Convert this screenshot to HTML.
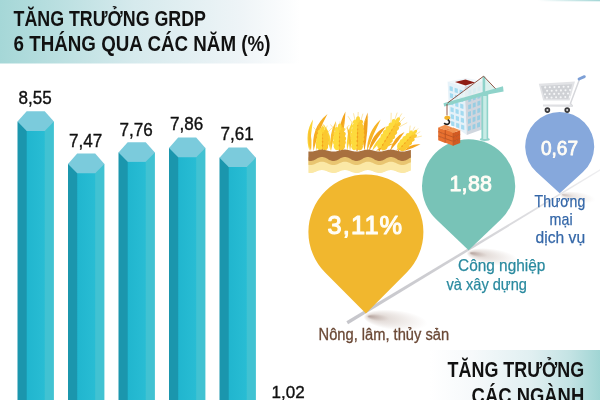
<!DOCTYPE html>
<html lang="vi">
<head>
<meta charset="utf-8">
<title>Tăng trưởng GRDP 6 tháng qua các năm</title>
<style>
html,body{margin:0;padding:0;background:#fff;}
body{width:600px;height:400px;overflow:hidden;font-family:"Liberation Sans",sans-serif;}
svg{display:block;}
text{font-family:"Liberation Sans",sans-serif;}
.t{font-weight:bold;fill:#111;}
.v{fill:#111;stroke:#111;stroke-width:0.35px;}
.w{fill:#fffdf6;stroke:#fffdf6;stroke-width:0.8px;stroke-linejoin:round;}
</style>
</head>
<body>
<svg width="600" height="400" viewBox="0 0 600 400">
<defs>
<linearGradient id="ghead" x1="0" y1="0" x2="1" y2="0">
<stop offset="0" stop-color="#a5d7d7"/>
<stop offset="0.45" stop-color="#d6eaed"/>
<stop offset="0.8" stop-color="#eef4f7"/>
<stop offset="1" stop-color="#ffffff"/>
</linearGradient>
<linearGradient id="gfoot" x1="0" y1="0" x2="1" y2="0">
<stop offset="0" stop-color="#ffffff"/>
<stop offset="0.25" stop-color="#f6f9fb"/>
<stop offset="0.6" stop-color="#e0eff1"/>
<stop offset="0.82" stop-color="#c4e3e4"/>
<stop offset="1" stop-color="#a0d5d4"/>
</linearGradient>
<linearGradient id="gmid" x1="0" y1="0" x2="1" y2="0">
<stop offset="0" stop-color="#20b5ce"/>
<stop offset="1" stop-color="#29bdd4"/>
</linearGradient>
<linearGradient id="gtop" x1="0" y1="0" x2="1" y2="0">
<stop offset="0" stop-color="#ffffff"/>
<stop offset="1" stop-color="#a3d6d6"/>
</linearGradient>
<linearGradient id="gline" gradientUnits="userSpaceOnUse" x1="347" y1="0" x2="600" y2="0">
<stop offset="0" stop-color="#c6c6cb"/>
<stop offset="0.45" stop-color="#d0d0d4"/>
<stop offset="0.75" stop-color="#dfdfe2"/>
<stop offset="1" stop-color="#eeeef0"/>
</linearGradient>
<radialGradient id="gsh" cx="0.5" cy="0.5" r="0.5" fx="0.08" fy="0.45">
<stop offset="0" stop-color="#7a5a50" stop-opacity="0.55"/>
<stop offset="0.35" stop-color="#8a6a5a" stop-opacity="0.22"/>
<stop offset="1" stop-color="#8a6a5a" stop-opacity="0"/>
</radialGradient>
</defs>
<rect x="0" y="0" width="600" height="400" fill="#fff"/>
<rect x="0" y="0" width="300" height="63.5" fill="url(#ghead)"/>
<rect x="538" y="0" width="62" height="1.3" fill="url(#gtop)"/>
<rect x="430" y="350" width="170" height="50" fill="url(#gfoot)"/>

<text class="t" x="13.5" y="26.2" font-size="22" textLength="192.5" lengthAdjust="spacingAndGlyphs">TĂNG TRƯỞNG GRDP</text>
<text class="t" x="13.5" y="51.4" font-size="22" textLength="257" lengthAdjust="spacingAndGlyphs">6 THÁNG QUA CÁC NĂM (%)</text>
<rect x="25.7" y="130.3" width="20.0" height="400" fill="url(#gmid)"/>
<rect x="17.5" y="121.6" width="9.2" height="400" fill="#1b96ad"/>
<rect x="44.7" y="121.6" width="9.2" height="400" fill="#41c2d2"/>
<polygon points="17.5,121.6 26.7,111.3 44.7,111.3 53.9,121.6 44.7,130.9 26.7,130.9" fill="#7bcbdc"/>
<text class="v" x="18.6" y="104.0" font-size="17.5" textLength="33.2" lengthAdjust="spacingAndGlyphs">8,55</text>
<rect x="76.2" y="172.6" width="20.0" height="400" fill="url(#gmid)"/>
<rect x="68.0" y="163.9" width="9.2" height="400" fill="#1b96ad"/>
<rect x="95.2" y="163.9" width="9.2" height="400" fill="#41c2d2"/>
<polygon points="68.0,163.9 77.2,153.6 95.2,153.6 104.4,163.9 95.2,173.2 77.2,173.2" fill="#7bcbdc"/>
<text class="v" x="69.1" y="147.4" font-size="17.5" textLength="33.2" lengthAdjust="spacingAndGlyphs">7,47</text>
<rect x="126.7" y="161.2" width="20.0" height="400" fill="url(#gmid)"/>
<rect x="118.5" y="152.5" width="9.2" height="400" fill="#1b96ad"/>
<rect x="145.70000000000002" y="152.5" width="9.2" height="400" fill="#41c2d2"/>
<polygon points="118.5,152.5 127.7,142.2 145.70000000000002,142.2 154.9,152.5 145.70000000000002,161.79999999999998 127.7,161.79999999999998" fill="#7bcbdc"/>
<text class="v" x="119.6" y="136.0" font-size="17.5" textLength="33.2" lengthAdjust="spacingAndGlyphs">7,76</text>
<rect x="177.2" y="156.6" width="20.0" height="400" fill="url(#gmid)"/>
<rect x="169.0" y="147.9" width="9.2" height="400" fill="#1b96ad"/>
<rect x="196.20000000000002" y="147.9" width="9.2" height="400" fill="#41c2d2"/>
<polygon points="169.0,147.9 178.2,137.6 196.20000000000002,137.6 205.4,147.9 196.20000000000002,157.2 178.2,157.2" fill="#7bcbdc"/>
<text class="v" x="170.1" y="130.3" font-size="17.5" textLength="33.2" lengthAdjust="spacingAndGlyphs">7,86</text>
<rect x="227.7" y="166.4" width="20.0" height="400" fill="url(#gmid)"/>
<rect x="219.5" y="157.70000000000002" width="9.2" height="400" fill="#1b96ad"/>
<rect x="246.70000000000002" y="157.70000000000002" width="9.2" height="400" fill="#41c2d2"/>
<polygon points="219.5,157.70000000000002 228.7,147.4 246.70000000000002,147.4 255.9,157.70000000000002 246.70000000000002,167.0 228.7,167.0" fill="#7bcbdc"/>
<text class="v" x="220.6" y="140.1" font-size="17.5" textLength="33.2" lengthAdjust="spacingAndGlyphs">7,61</text>
<text class="v" x="271.6" y="397.6" font-size="17.3" textLength="33.2" lengthAdjust="spacingAndGlyphs">1,02</text>
<ellipse cx="396" cy="317" rx="32" ry="10" fill="url(#gsh)" transform="rotate(6 366 314)"/>
<ellipse cx="493" cy="253.5" rx="26" ry="8" fill="url(#gsh)" transform="rotate(8 469 251)"/>
<ellipse cx="578" cy="195" rx="18" ry="5.5" fill="url(#gsh)" opacity="0.7" transform="rotate(8 561 193)"/>
<polygon points="346.4,321.3 601,168.6 601,170.2 348.1,324.3" fill="url(#gline)"/>
<g id="wheat">
<path d="M309.5,151.0 Q310.9,134.4 313.0,119.5 Q304.1,133.6 309.5,151.0 Z" fill="#fbd437"/>
<path d="M311.0,151.0 Q312.5,139.8 309.5,128.0 Q306.5,140.2 311.0,151.0 Z" fill="#f9c02e"/>
<path d="M313.5,151.0 Q318.4,130.5 327.5,114.0 Q310.6,127.5 313.5,151.0 Z" fill="#f6ad22"/>
<path d="M316.0,151.0 Q320.4,136.9 324.0,124.0 Q314.6,135.1 316.0,151.0 Z" fill="#fcd63a"/>
<path d="M330.5,151.0 Q332.9,135.2 323.5,124.0 Q327.1,136.8 330.5,151.0 Z" fill="#fbd437"/>
<path d="M331.0,151.0 Q334.5,134.5 336.0,121.0 Q328.5,133.5 331.0,151.0 Z" fill="#f9bd2b"/>
<path d="M340.0,151.0 Q344.6,128.6 345.5,111.5 Q336.4,127.4 340.0,151.0 Z" fill="#f4a51e"/>
<path d="M347.0,151.0 Q351.5,135.5 352.5,121.0 Q345.5,134.5 347.0,151.0 Z" fill="#fbd437"/>
<path d="M350.0,151.0 Q353.6,137.7 347.0,126.0 Q348.4,138.3 350.0,151.0 Z" fill="#f9bd2b"/>
<path d="M364.5,151.0 Q368.4,130.4 367.6,112.5 Q359.6,129.6 364.5,151.0 Z" fill="#f0a01c"/>
<path d="M367.0,151.0 Q373.1,134.4 380.7,119.5 Q366.9,131.6 367.0,151.0 Z" fill="#f7b426"/>
<path d="M369.0,151.0 Q377.1,138.2 386.0,126.5 Q370.9,133.8 369.0,151.0 Z" fill="#f2a21d"/>
<path d="M372.0,151.0 Q379.2,143.8 384.0,136.0 Q374.8,140.2 372.0,151.0 Z" fill="#fbd437"/>
<path d="M390.0,151.0 Q398.7,141.1 404.5,132.0 Q393.3,136.9 390.0,151.0 Z" fill="#f4a51e"/>
<path d="M396.0,151.0 Q403.8,145.2 412.0,138.5 Q400.2,140.8 396.0,151.0 Z" fill="#f9bd2b"/>
<path d="M404.0,151.0 Q412.1,148.8 420.5,144.3 Q409.9,143.2 404.0,151.0 Z" fill="#f4a51e"/>
<path d="M376.0,151.0 Q384.0,148.5 394.0,143.5 Q382.0,143.5 376.0,151.0 Z" fill="#f7b426"/>
<line x1="322.3" y1="151" x2="322.6" y2="146" stroke="#f3a01d" stroke-width="1.2"/>
<line x1="339.3" y1="151" x2="339.5" y2="146" stroke="#f3a01d" stroke-width="1.2"/>
<line x1="357" y1="151" x2="357.4" y2="146" stroke="#f3a01d" stroke-width="1.2"/>
<line x1="379" y1="151" x2="381" y2="147" stroke="#f3a01d" stroke-width="1.2"/>
<line x1="398" y1="151.5" x2="400" y2="148" stroke="#f3a01d" stroke-width="1.2"/>
<line x1="322.6" y1="137.5" x2="313.5" y2="127.3" stroke="#f9c840" stroke-width="0.45"/>
<line x1="322.6" y1="137.5" x2="332.2" y2="127.7" stroke="#f9c840" stroke-width="0.45"/>
<line x1="322.6" y1="137.5" x2="318.5" y2="125.4" stroke="#f9c840" stroke-width="0.45"/>
<line x1="322.6" y1="137.5" x2="327.3" y2="125.6" stroke="#f9c840" stroke-width="0.45"/>
<line x1="322.6" y1="137.5" x2="322.9" y2="124.5" stroke="#f9c840" stroke-width="0.45"/>
<ellipse cx="322.6" cy="139.5" rx="4.8" ry="10.0" transform="rotate(1.1 322.6 139.5)" fill="#f3a01d"/>
<ellipse cx="319.6" cy="147.2" rx="2.6" ry="3.0" transform="rotate(-28.9 319.6 147.2)" fill="#fddb3d"/>
<ellipse cx="325.3" cy="147.3" rx="2.6" ry="3.0" transform="rotate(31.1 325.3 147.3)" fill="#fbc830"/>
<ellipse cx="319.3" cy="143.5" rx="3.0" ry="3.0" transform="rotate(-28.9 319.3 143.5)" fill="#fddb3d"/>
<ellipse cx="325.8" cy="143.6" rx="3.0" ry="3.0" transform="rotate(31.1 325.8 143.6)" fill="#fbc830"/>
<ellipse cx="319.3" cy="139.8" rx="3.1" ry="3.0" transform="rotate(-28.9 319.3 139.8)" fill="#fddb3d"/>
<ellipse cx="325.9" cy="139.9" rx="3.1" ry="3.0" transform="rotate(31.1 325.9 139.9)" fill="#fbc830"/>
<ellipse cx="319.7" cy="136.1" rx="2.8" ry="3.0" transform="rotate(-28.9 319.7 136.1)" fill="#fddb3d"/>
<ellipse cx="325.6" cy="136.2" rx="2.8" ry="3.0" transform="rotate(31.1 325.6 136.2)" fill="#fbc830"/>
<ellipse cx="320.3" cy="132.4" rx="2.2" ry="3.0" transform="rotate(-28.9 320.3 132.4)" fill="#fddb3d"/>
<ellipse cx="325.1" cy="132.5" rx="2.2" ry="3.0" transform="rotate(31.1 325.1 132.5)" fill="#fbc830"/>
<ellipse cx="322.8" cy="129.5" rx="1.9" ry="3.0" transform="rotate(1.1 322.8 129.5)" fill="#fdd637"/>
<line x1="339.6" y1="136.0" x2="330.5" y2="124.5" stroke="#f9c840" stroke-width="0.45"/>
<line x1="339.6" y1="136.0" x2="349.2" y2="125.0" stroke="#f9c840" stroke-width="0.45"/>
<line x1="339.6" y1="136.0" x2="335.5" y2="122.4" stroke="#f9c840" stroke-width="0.45"/>
<line x1="339.6" y1="136.0" x2="344.3" y2="122.6" stroke="#f9c840" stroke-width="0.45"/>
<line x1="339.6" y1="136.0" x2="340.0" y2="121.4" stroke="#f9c840" stroke-width="0.45"/>
<ellipse cx="339.5" cy="138.2" rx="4.8" ry="11.3" transform="rotate(1.5 339.5 138.2)" fill="#f3a01d"/>
<ellipse cx="336.5" cy="146.9" rx="2.6" ry="3.4" transform="rotate(-28.5 336.5 146.9)" fill="#fddb3d"/>
<ellipse cx="342.1" cy="147.1" rx="2.6" ry="3.4" transform="rotate(31.5 342.1 147.1)" fill="#fbc830"/>
<ellipse cx="336.1" cy="142.7" rx="3.0" ry="3.4" transform="rotate(-28.5 336.1 142.7)" fill="#fddb3d"/>
<ellipse cx="342.6" cy="142.9" rx="3.0" ry="3.4" transform="rotate(31.5 342.6 142.9)" fill="#fbc830"/>
<ellipse cx="336.2" cy="138.6" rx="3.1" ry="3.4" transform="rotate(-28.5 336.2 138.6)" fill="#fddb3d"/>
<ellipse cx="342.8" cy="138.8" rx="3.1" ry="3.4" transform="rotate(31.5 342.8 138.8)" fill="#fbc830"/>
<ellipse cx="336.6" cy="134.4" rx="2.8" ry="3.4" transform="rotate(-28.5 336.6 134.4)" fill="#fddb3d"/>
<ellipse cx="342.6" cy="134.6" rx="2.8" ry="3.4" transform="rotate(31.5 342.6 134.6)" fill="#fbc830"/>
<ellipse cx="337.3" cy="130.3" rx="2.2" ry="3.4" transform="rotate(-28.5 337.3 130.3)" fill="#fddb3d"/>
<ellipse cx="342.1" cy="130.4" rx="2.2" ry="3.4" transform="rotate(31.5 342.1 130.4)" fill="#fbc830"/>
<ellipse cx="339.8" cy="127.0" rx="1.9" ry="3.4" transform="rotate(1.5 339.8 127.0)" fill="#fdd637"/>
<line x1="357.6" y1="131.5" x2="348.0" y2="116.2" stroke="#f9c840" stroke-width="0.45"/>
<line x1="357.6" y1="131.5" x2="368.2" y2="116.8" stroke="#f9c840" stroke-width="0.45"/>
<line x1="357.6" y1="131.5" x2="353.5" y2="113.3" stroke="#f9c840" stroke-width="0.45"/>
<line x1="357.6" y1="131.5" x2="362.9" y2="113.7" stroke="#f9c840" stroke-width="0.45"/>
<line x1="357.6" y1="131.5" x2="358.2" y2="112.0" stroke="#f9c840" stroke-width="0.45"/>
<ellipse cx="357.5" cy="134.5" rx="5.1" ry="15.0" transform="rotate(1.9 357.5 134.5)" fill="#f3a01d"/>
<ellipse cx="354.1" cy="147.0" rx="2.7" ry="3.2" transform="rotate(-28.1 354.1 147.0)" fill="#fddb3d"/>
<ellipse cx="360.0" cy="147.2" rx="2.7" ry="3.2" transform="rotate(31.9 360.0 147.2)" fill="#fbc830"/>
<ellipse cx="353.9" cy="142.9" rx="3.1" ry="3.2" transform="rotate(-28.1 353.9 142.9)" fill="#fddb3d"/>
<ellipse cx="360.5" cy="143.1" rx="3.1" ry="3.2" transform="rotate(31.9 360.5 143.1)" fill="#fbc830"/>
<ellipse cx="353.8" cy="138.8" rx="3.3" ry="3.2" transform="rotate(-28.1 353.8 138.8)" fill="#fddb3d"/>
<ellipse cx="360.9" cy="139.1" rx="3.3" ry="3.2" transform="rotate(31.9 360.9 139.1)" fill="#fbc830"/>
<ellipse cx="353.9" cy="134.8" rx="3.3" ry="3.2" transform="rotate(-28.1 353.9 134.8)" fill="#fddb3d"/>
<ellipse cx="361.1" cy="135.0" rx="3.3" ry="3.2" transform="rotate(31.9 361.1 135.0)" fill="#fbc830"/>
<ellipse cx="354.3" cy="130.7" rx="3.1" ry="3.2" transform="rotate(-28.1 354.3 130.7)" fill="#fddb3d"/>
<ellipse cx="361.0" cy="131.0" rx="3.1" ry="3.2" transform="rotate(31.9 361.0 131.0)" fill="#fbc830"/>
<ellipse cx="354.8" cy="126.7" rx="2.7" ry="3.2" transform="rotate(-28.1 354.8 126.7)" fill="#fddb3d"/>
<ellipse cx="360.7" cy="126.9" rx="2.7" ry="3.2" transform="rotate(31.9 360.7 126.9)" fill="#fbc830"/>
<ellipse cx="355.5" cy="122.7" rx="2.3" ry="3.2" transform="rotate(-28.1 355.5 122.7)" fill="#fddb3d"/>
<ellipse cx="360.3" cy="122.8" rx="2.3" ry="3.2" transform="rotate(31.9 360.3 122.8)" fill="#fbc830"/>
<ellipse cx="358.0" cy="119.5" rx="2.0" ry="3.2" transform="rotate(1.9 358.0 119.5)" fill="#fdd637"/>
<line x1="390.7" y1="131.7" x2="391.2" y2="112.8" stroke="#f9c840" stroke-width="0.45"/>
<line x1="390.7" y1="131.7" x2="407.2" y2="122.6" stroke="#f9c840" stroke-width="0.45"/>
<line x1="390.7" y1="131.7" x2="397.2" y2="112.6" stroke="#f9c840" stroke-width="0.45"/>
<line x1="390.7" y1="131.7" x2="404.6" y2="117.2" stroke="#f9c840" stroke-width="0.45"/>
<line x1="390.7" y1="131.7" x2="401.8" y2="113.5" stroke="#f9c840" stroke-width="0.45"/>
<ellipse cx="389.0" cy="134.5" rx="4.8" ry="16.4" transform="rotate(31.3 389.0 134.5)" fill="#f3a01d"/>
<ellipse cx="379.6" cy="144.8" rx="2.5" ry="3.5" transform="rotate(1.3 379.6 144.8)" fill="#fddb3d"/>
<ellipse cx="384.2" cy="147.6" rx="2.5" ry="3.5" transform="rotate(61.3 384.2 147.6)" fill="#fbc830"/>
<ellipse cx="381.5" cy="140.8" rx="2.9" ry="3.5" transform="rotate(1.3 381.5 140.8)" fill="#fddb3d"/>
<ellipse cx="386.8" cy="144.0" rx="2.9" ry="3.5" transform="rotate(61.3 386.8 144.0)" fill="#fbc830"/>
<ellipse cx="383.6" cy="136.9" rx="3.1" ry="3.5" transform="rotate(1.3 383.6 136.9)" fill="#fddb3d"/>
<ellipse cx="389.3" cy="140.4" rx="3.1" ry="3.5" transform="rotate(61.3 389.3 140.4)" fill="#fbc830"/>
<ellipse cx="385.9" cy="133.2" rx="3.1" ry="3.5" transform="rotate(1.3 385.9 133.2)" fill="#fddb3d"/>
<ellipse cx="391.6" cy="136.6" rx="3.1" ry="3.5" transform="rotate(61.3 391.6 136.6)" fill="#fbc830"/>
<ellipse cx="388.4" cy="129.5" rx="2.9" ry="3.5" transform="rotate(1.3 388.4 129.5)" fill="#fddb3d"/>
<ellipse cx="393.7" cy="132.7" rx="2.9" ry="3.5" transform="rotate(61.3 393.7 132.7)" fill="#fbc830"/>
<ellipse cx="391.0" cy="125.9" rx="2.5" ry="3.5" transform="rotate(1.3 391.0 125.9)" fill="#fddb3d"/>
<ellipse cx="395.7" cy="128.7" rx="2.5" ry="3.5" transform="rotate(61.3 395.7 128.7)" fill="#fbc830"/>
<ellipse cx="393.7" cy="122.4" rx="2.1" ry="3.5" transform="rotate(1.3 393.7 122.4)" fill="#fddb3d"/>
<ellipse cx="397.6" cy="124.7" rx="2.1" ry="3.5" transform="rotate(61.3 397.6 124.7)" fill="#fbc830"/>
<ellipse cx="397.5" cy="120.5" rx="1.9" ry="3.5" transform="rotate(31.3 397.5 120.5)" fill="#fdd637"/>
<line x1="408.5" y1="139.1" x2="410.2" y2="125.6" stroke="#f9c840" stroke-width="0.45"/>
<line x1="408.5" y1="139.1" x2="421.8" y2="136.1" stroke="#f9c840" stroke-width="0.45"/>
<line x1="408.5" y1="139.1" x2="414.8" y2="126.7" stroke="#f9c840" stroke-width="0.45"/>
<line x1="408.5" y1="139.1" x2="420.2" y2="131.7" stroke="#f9c840" stroke-width="0.45"/>
<line x1="408.5" y1="139.1" x2="418.2" y2="128.4" stroke="#f9c840" stroke-width="0.45"/>
<ellipse cx="407.0" cy="140.8" rx="4.0" ry="11.1" transform="rotate(42.3 407.0 140.8)" fill="#f3a01d"/>
<ellipse cx="399.4" cy="145.6" rx="2.2" ry="3.3" transform="rotate(12.3 399.4 145.6)" fill="#fddb3d"/>
<ellipse cx="402.9" cy="148.8" rx="2.2" ry="3.3" transform="rotate(72.3 402.9 148.8)" fill="#fbc830"/>
<ellipse cx="401.9" cy="142.3" rx="2.5" ry="3.3" transform="rotate(12.3 401.9 142.3)" fill="#fddb3d"/>
<ellipse cx="406.0" cy="145.9" rx="2.5" ry="3.3" transform="rotate(72.3 406.0 145.9)" fill="#fbc830"/>
<ellipse cx="404.7" cy="139.2" rx="2.6" ry="3.3" transform="rotate(12.3 404.7 139.2)" fill="#fddb3d"/>
<ellipse cx="408.8" cy="142.9" rx="2.6" ry="3.3" transform="rotate(72.3 408.8 142.9)" fill="#fbc830"/>
<ellipse cx="407.6" cy="136.3" rx="2.3" ry="3.3" transform="rotate(12.3 407.6 136.3)" fill="#fddb3d"/>
<ellipse cx="411.4" cy="139.7" rx="2.3" ry="3.3" transform="rotate(72.3 411.4 139.7)" fill="#fbc830"/>
<ellipse cx="410.8" cy="133.6" rx="1.9" ry="3.3" transform="rotate(12.3 410.8 133.6)" fill="#fddb3d"/>
<ellipse cx="413.8" cy="136.3" rx="1.9" ry="3.3" transform="rotate(72.3 413.8 136.3)" fill="#fbc830"/>
<ellipse cx="414.5" cy="132.5" rx="1.6" ry="3.3" transform="rotate(42.3 414.5 132.5)" fill="#fdd637"/>
<polygon points="308.4,161.27 308.9,161.37 309.4,161.44 309.9,161.48 310.4,161.50 310.9,161.49 311.4,161.45 311.9,161.38 312.4,161.29 312.9,161.17 313.4,161.04 313.9,160.88 314.4,160.71 314.9,160.52 315.4,160.32 315.9,160.12 316.4,159.92 316.9,159.71 317.4,159.51 317.9,159.33 318.4,159.15 318.9,158.99 319.4,158.85 319.9,158.73 320.4,158.63 320.9,158.56 321.4,158.52 321.9,158.50 322.4,158.51 322.9,158.55 323.4,158.62 323.9,158.71 324.4,158.83 324.9,158.96 325.4,159.12 325.9,159.29 326.4,159.48 326.9,159.68 327.4,159.88 327.9,160.08 328.4,160.29 328.9,160.49 329.4,160.67 329.9,160.85 330.4,161.01 330.9,161.15 331.4,161.27 331.9,161.37 332.4,161.44 332.9,161.48 333.4,161.50 333.9,161.49 334.4,161.45 334.9,161.38 335.4,161.29 335.9,161.17 336.4,161.04 336.9,160.88 337.4,160.71 337.9,160.52 338.4,160.32 338.9,160.12 339.4,159.92 339.9,159.71 340.4,159.51 340.9,159.33 341.4,159.15 341.9,158.99 342.4,158.85 342.9,158.73 343.4,158.63 343.9,158.56 344.4,158.52 344.9,158.50 345.4,158.51 345.9,158.55 346.4,158.62 346.9,158.71 347.4,158.83 347.9,158.96 348.4,159.12 348.9,159.29 349.4,159.48 349.9,159.68 350.4,159.88 350.9,160.08 351.4,160.29 351.9,160.49 352.4,160.67 352.9,160.85 353.4,161.01 353.9,161.15 354.4,161.27 354.9,161.37 355.4,161.44 355.9,161.48 356.4,161.50 356.9,161.49 357.4,161.45 357.9,161.38 358.4,161.29 358.9,161.17 359.4,161.04 359.9,160.88 360.4,160.71 360.9,160.52 361.4,160.32 361.9,160.12 362.4,159.92 362.9,159.71 363.4,159.51 363.9,159.33 364.4,159.15 364.9,158.99 365.4,158.85 365.9,158.73 366.4,158.63 366.9,158.56 367.4,158.52 367.9,158.50 368.4,158.51 368.9,158.55 369.4,158.62 369.9,158.71 370.4,158.83 370.9,158.96 371.4,159.12 371.9,159.29 372.4,159.48 372.9,159.68 373.4,159.88 373.9,160.08 374.4,160.29 374.9,160.49 375.4,160.67 375.9,160.85 376.4,161.01 376.9,161.15 377.4,161.27 377.9,161.37 378.4,161.44 378.9,161.48 379.4,161.50 379.9,161.49 380.4,161.45 380.9,161.38 381.4,161.29 381.9,161.17 382.4,161.04 382.9,160.88 383.4,160.71 383.9,160.52 384.4,160.32 384.9,160.12 385.4,159.92 385.9,159.71 386.4,159.51 386.9,159.33 387.4,159.15 387.9,158.99 388.4,158.85 388.9,158.73 389.4,158.63 389.9,158.56 390.4,158.52 390.9,158.50 391.4,158.51 391.9,158.55 392.4,158.62 392.9,158.71 393.4,158.83 393.9,158.96 394.4,159.12 394.9,159.29 395.4,159.48 395.9,159.68 396.4,159.88 396.9,160.08 397.4,160.29 397.9,160.49 398.4,160.67 398.9,160.85 399.4,161.01 399.9,161.15 400.4,161.27 400.9,161.37 401.4,161.44 401.9,161.48 402.4,161.50 402.9,161.49 403.4,161.45 403.9,161.38 404.4,161.29 404.9,161.17 405.4,161.04 405.9,160.88 406.4,160.71 406.9,160.52 407.4,160.32 407.9,160.12 408.4,159.92 408.9,159.71 409.4,159.51 409.9,159.33 410.4,159.15 410.9,158.99 410.9,170.59 410.4,170.75 409.9,170.93 409.4,171.11 408.9,171.31 408.4,171.52 407.9,171.72 407.4,171.92 406.9,172.12 406.4,172.31 405.9,172.48 405.4,172.64 404.9,172.77 404.4,172.89 403.9,172.98 403.4,173.05 402.9,173.09 402.4,173.10 401.9,173.08 401.4,173.04 400.9,172.97 400.4,172.87 399.9,172.75 399.4,172.61 398.9,172.45 398.4,172.27 397.9,172.09 397.4,171.89 396.9,171.68 396.4,171.48 395.9,171.28 395.4,171.08 394.9,170.89 394.4,170.72 393.9,170.56 393.4,170.43 392.9,170.31 392.4,170.22 391.9,170.15 391.4,170.11 390.9,170.10 390.4,170.12 389.9,170.16 389.4,170.23 388.9,170.33 388.4,170.45 387.9,170.59 387.4,170.75 386.9,170.93 386.4,171.11 385.9,171.31 385.4,171.52 384.9,171.72 384.4,171.92 383.9,172.12 383.4,172.31 382.9,172.48 382.4,172.64 381.9,172.77 381.4,172.89 380.9,172.98 380.4,173.05 379.9,173.09 379.4,173.10 378.9,173.08 378.4,173.04 377.9,172.97 377.4,172.87 376.9,172.75 376.4,172.61 375.9,172.45 375.4,172.27 374.9,172.09 374.4,171.89 373.9,171.68 373.4,171.48 372.9,171.28 372.4,171.08 371.9,170.89 371.4,170.72 370.9,170.56 370.4,170.43 369.9,170.31 369.4,170.22 368.9,170.15 368.4,170.11 367.9,170.10 367.4,170.12 366.9,170.16 366.4,170.23 365.9,170.33 365.4,170.45 364.9,170.59 364.4,170.75 363.9,170.93 363.4,171.11 362.9,171.31 362.4,171.52 361.9,171.72 361.4,171.92 360.9,172.12 360.4,172.31 359.9,172.48 359.4,172.64 358.9,172.77 358.4,172.89 357.9,172.98 357.4,173.05 356.9,173.09 356.4,173.10 355.9,173.08 355.4,173.04 354.9,172.97 354.4,172.87 353.9,172.75 353.4,172.61 352.9,172.45 352.4,172.27 351.9,172.09 351.4,171.89 350.9,171.68 350.4,171.48 349.9,171.28 349.4,171.08 348.9,170.89 348.4,170.72 347.9,170.56 347.4,170.43 346.9,170.31 346.4,170.22 345.9,170.15 345.4,170.11 344.9,170.10 344.4,170.12 343.9,170.16 343.4,170.23 342.9,170.33 342.4,170.45 341.9,170.59 341.4,170.75 340.9,170.93 340.4,171.11 339.9,171.31 339.4,171.52 338.9,171.72 338.4,171.92 337.9,172.12 337.4,172.31 336.9,172.48 336.4,172.64 335.9,172.77 335.4,172.89 334.9,172.98 334.4,173.05 333.9,173.09 333.4,173.10 332.9,173.08 332.4,173.04 331.9,172.97 331.4,172.87 330.9,172.75 330.4,172.61 329.9,172.45 329.4,172.27 328.9,172.09 328.4,171.89 327.9,171.68 327.4,171.48 326.9,171.28 326.4,171.08 325.9,170.89 325.4,170.72 324.9,170.56 324.4,170.43 323.9,170.31 323.4,170.22 322.9,170.15 322.4,170.11 321.9,170.10 321.4,170.12 320.9,170.16 320.4,170.23 319.9,170.33 319.4,170.45 318.9,170.59 318.4,170.75 317.9,170.93 317.4,171.11 316.9,171.31 316.4,171.52 315.9,171.72 315.4,171.92 314.9,172.12 314.4,172.31 313.9,172.48 313.4,172.64 312.9,172.77 312.4,172.89 311.9,172.98 311.4,173.05 310.9,173.09 310.4,173.10 309.9,173.08 309.4,173.04 308.9,172.97 308.4,172.87" fill="#fbe8a6"/>
<polygon points="308.4,157.27 308.9,157.37 309.4,157.44 309.9,157.48 310.4,157.50 310.9,157.49 311.4,157.45 311.9,157.38 312.4,157.29 312.9,157.17 313.4,157.04 313.9,156.88 314.4,156.71 314.9,156.52 315.4,156.32 315.9,156.12 316.4,155.92 316.9,155.71 317.4,155.51 317.9,155.33 318.4,155.15 318.9,154.99 319.4,154.85 319.9,154.73 320.4,154.63 320.9,154.56 321.4,154.52 321.9,154.50 322.4,154.51 322.9,154.55 323.4,154.62 323.9,154.71 324.4,154.83 324.9,154.96 325.4,155.12 325.9,155.29 326.4,155.48 326.9,155.68 327.4,155.88 327.9,156.08 328.4,156.29 328.9,156.49 329.4,156.67 329.9,156.85 330.4,157.01 330.9,157.15 331.4,157.27 331.9,157.37 332.4,157.44 332.9,157.48 333.4,157.50 333.9,157.49 334.4,157.45 334.9,157.38 335.4,157.29 335.9,157.17 336.4,157.04 336.9,156.88 337.4,156.71 337.9,156.52 338.4,156.32 338.9,156.12 339.4,155.92 339.9,155.71 340.4,155.51 340.9,155.33 341.4,155.15 341.9,154.99 342.4,154.85 342.9,154.73 343.4,154.63 343.9,154.56 344.4,154.52 344.9,154.50 345.4,154.51 345.9,154.55 346.4,154.62 346.9,154.71 347.4,154.83 347.9,154.96 348.4,155.12 348.9,155.29 349.4,155.48 349.9,155.68 350.4,155.88 350.9,156.08 351.4,156.29 351.9,156.49 352.4,156.67 352.9,156.85 353.4,157.01 353.9,157.15 354.4,157.27 354.9,157.37 355.4,157.44 355.9,157.48 356.4,157.50 356.9,157.49 357.4,157.45 357.9,157.38 358.4,157.29 358.9,157.17 359.4,157.04 359.9,156.88 360.4,156.71 360.9,156.52 361.4,156.32 361.9,156.12 362.4,155.92 362.9,155.71 363.4,155.51 363.9,155.33 364.4,155.15 364.9,154.99 365.4,154.85 365.9,154.73 366.4,154.63 366.9,154.56 367.4,154.52 367.9,154.50 368.4,154.51 368.9,154.55 369.4,154.62 369.9,154.71 370.4,154.83 370.9,154.96 371.4,155.12 371.9,155.29 372.4,155.48 372.9,155.68 373.4,155.88 373.9,156.08 374.4,156.29 374.9,156.49 375.4,156.67 375.9,156.85 376.4,157.01 376.9,157.15 377.4,157.27 377.9,157.37 378.4,157.44 378.9,157.48 379.4,157.50 379.9,157.49 380.4,157.45 380.9,157.38 381.4,157.29 381.9,157.17 382.4,157.04 382.9,156.88 383.4,156.71 383.9,156.52 384.4,156.32 384.9,156.12 385.4,155.92 385.9,155.71 386.4,155.51 386.9,155.33 387.4,155.15 387.9,154.99 388.4,154.85 388.9,154.73 389.4,154.63 389.9,154.56 390.4,154.52 390.9,154.50 391.4,154.51 391.9,154.55 392.4,154.62 392.9,154.71 393.4,154.83 393.9,154.96 394.4,155.12 394.9,155.29 395.4,155.48 395.9,155.68 396.4,155.88 396.9,156.08 397.4,156.29 397.9,156.49 398.4,156.67 398.9,156.85 399.4,157.01 399.9,157.15 400.4,157.27 400.9,157.37 401.4,157.44 401.9,157.48 402.4,157.50 402.9,157.49 403.4,157.45 403.9,157.38 404.4,157.29 404.9,157.17 405.4,157.04 405.9,156.88 406.4,156.71 406.9,156.52 407.4,156.32 407.9,156.12 408.4,155.92 408.9,155.71 409.4,155.51 409.9,155.33 410.4,155.15 410.9,154.99 410.9,162.25 410.4,162.44 409.9,162.64 409.4,162.85 408.9,163.07 408.4,163.30 407.9,163.54 407.4,163.77 406.9,163.99 406.4,164.20 405.9,164.40 405.4,164.58 404.9,164.73 404.4,164.86 403.9,164.97 403.4,165.04 402.9,165.09 402.4,165.10 401.9,165.08 401.4,165.03 400.9,164.95 400.4,164.84 399.9,164.71 399.4,164.55 398.9,164.36 398.4,164.16 397.9,163.95 397.4,163.73 396.9,163.50 396.4,163.26 395.9,163.03 395.4,162.81 394.9,162.60 394.4,162.40 393.9,162.22 393.4,162.07 392.9,161.94 392.4,161.83 391.9,161.76 391.4,161.71 390.9,161.70 390.4,161.72 389.9,161.77 389.4,161.85 388.9,161.96 388.4,162.09 387.9,162.25 387.4,162.44 386.9,162.64 386.4,162.85 385.9,163.07 385.4,163.30 384.9,163.54 384.4,163.77 383.9,163.99 383.4,164.20 382.9,164.40 382.4,164.58 381.9,164.73 381.4,164.86 380.9,164.97 380.4,165.04 379.9,165.09 379.4,165.10 378.9,165.08 378.4,165.03 377.9,164.95 377.4,164.84 376.9,164.71 376.4,164.55 375.9,164.36 375.4,164.16 374.9,163.95 374.4,163.73 373.9,163.50 373.4,163.26 372.9,163.03 372.4,162.81 371.9,162.60 371.4,162.40 370.9,162.22 370.4,162.07 369.9,161.94 369.4,161.83 368.9,161.76 368.4,161.71 367.9,161.70 367.4,161.72 366.9,161.77 366.4,161.85 365.9,161.96 365.4,162.09 364.9,162.25 364.4,162.44 363.9,162.64 363.4,162.85 362.9,163.07 362.4,163.30 361.9,163.54 361.4,163.77 360.9,163.99 360.4,164.20 359.9,164.40 359.4,164.58 358.9,164.73 358.4,164.86 357.9,164.97 357.4,165.04 356.9,165.09 356.4,165.10 355.9,165.08 355.4,165.03 354.9,164.95 354.4,164.84 353.9,164.71 353.4,164.55 352.9,164.36 352.4,164.16 351.9,163.95 351.4,163.73 350.9,163.50 350.4,163.26 349.9,163.03 349.4,162.81 348.9,162.60 348.4,162.40 347.9,162.22 347.4,162.07 346.9,161.94 346.4,161.83 345.9,161.76 345.4,161.71 344.9,161.70 344.4,161.72 343.9,161.77 343.4,161.85 342.9,161.96 342.4,162.09 341.9,162.25 341.4,162.44 340.9,162.64 340.4,162.85 339.9,163.07 339.4,163.30 338.9,163.54 338.4,163.77 337.9,163.99 337.4,164.20 336.9,164.40 336.4,164.58 335.9,164.73 335.4,164.86 334.9,164.97 334.4,165.04 333.9,165.09 333.4,165.10 332.9,165.08 332.4,165.03 331.9,164.95 331.4,164.84 330.9,164.71 330.4,164.55 329.9,164.36 329.4,164.16 328.9,163.95 328.4,163.73 327.9,163.50 327.4,163.26 326.9,163.03 326.4,162.81 325.9,162.60 325.4,162.40 324.9,162.22 324.4,162.07 323.9,161.94 323.4,161.83 322.9,161.76 322.4,161.71 321.9,161.70 321.4,161.72 320.9,161.77 320.4,161.85 319.9,161.96 319.4,162.09 318.9,162.25 318.4,162.44 317.9,162.64 317.4,162.85 316.9,163.07 316.4,163.30 315.9,163.54 315.4,163.77 314.9,163.99 314.4,164.20 313.9,164.40 313.4,164.58 312.9,164.73 312.4,164.86 311.9,164.97 311.4,165.04 310.9,165.09 310.4,165.10 309.9,165.08 309.4,165.03 308.9,164.95 308.4,164.84" fill="#e9c570"/>
<polygon points="308.4,151.45 308.9,151.51 309.4,151.56 309.9,151.59 310.4,151.60 310.9,151.59 311.4,151.57 311.9,151.52 312.4,151.46 312.9,151.38 313.4,151.29 313.9,151.19 314.4,151.07 314.9,150.95 315.4,150.82 315.9,150.68 316.4,150.54 316.9,150.41 317.4,150.28 317.9,150.15 318.4,150.03 318.9,149.93 319.4,149.83 319.9,149.75 320.4,149.69 320.9,149.64 321.4,149.61 321.9,149.60 322.4,149.61 322.9,149.63 323.4,149.68 323.9,149.74 324.4,149.82 324.9,149.91 325.4,150.01 325.9,150.13 326.4,150.25 326.9,150.38 327.4,150.52 327.9,150.66 328.4,150.79 328.9,150.92 329.4,151.05 329.9,151.17 330.4,151.27 330.9,151.37 331.4,151.45 331.9,151.51 332.4,151.56 332.9,151.59 333.4,151.60 333.9,151.59 334.4,151.57 334.9,151.52 335.4,151.46 335.9,151.38 336.4,151.29 336.9,151.19 337.4,151.07 337.9,150.95 338.4,150.82 338.9,150.68 339.4,150.54 339.9,150.41 340.4,150.28 340.9,150.15 341.4,150.03 341.9,149.93 342.4,149.83 342.9,149.75 343.4,149.69 343.9,149.64 344.4,149.61 344.9,149.60 345.4,149.61 345.9,149.63 346.4,149.68 346.9,149.74 347.4,149.82 347.9,149.91 348.4,150.01 348.9,150.13 349.4,150.25 349.9,150.38 350.4,150.52 350.9,150.66 351.4,150.79 351.9,150.92 352.4,151.05 352.9,151.17 353.4,151.27 353.9,151.37 354.4,151.45 354.9,151.51 355.4,151.56 355.9,151.59 356.4,151.60 356.9,151.59 357.4,151.57 357.9,151.52 358.4,151.46 358.9,151.38 359.4,151.29 359.9,151.19 360.4,151.07 360.9,150.95 361.4,150.82 361.9,150.68 362.4,150.54 362.9,150.41 363.4,150.28 363.9,150.15 364.4,150.03 364.9,149.93 365.4,149.83 365.9,149.75 366.4,149.69 366.9,149.64 367.4,149.61 367.9,149.60 368.4,149.61 368.9,149.63 369.4,149.68 369.9,149.74 370.4,149.82 370.9,149.91 371.4,150.01 371.9,150.13 372.4,150.25 372.9,150.38 373.4,150.52 373.9,150.66 374.4,150.79 374.9,150.92 375.4,151.05 375.9,151.17 376.4,151.27 376.9,151.37 377.4,151.45 377.9,151.51 378.4,151.56 378.9,151.59 379.4,151.60 379.9,151.59 380.4,151.57 380.9,151.52 381.4,151.46 381.9,151.38 382.4,151.29 382.9,151.19 383.4,151.07 383.9,150.95 384.4,150.82 384.9,150.68 385.4,150.54 385.9,150.41 386.4,150.28 386.9,150.15 387.4,150.03 387.9,149.93 388.4,149.83 388.9,149.75 389.4,149.69 389.9,149.64 390.4,149.61 390.9,149.60 391.4,149.61 391.9,149.63 392.4,149.68 392.9,149.74 393.4,149.82 393.9,149.91 394.4,150.01 394.9,150.13 395.4,150.25 395.9,150.38 396.4,150.52 396.9,150.66 397.4,150.79 397.9,150.92 398.4,151.05 398.9,151.17 399.4,151.27 399.9,151.37 400.4,151.45 400.9,151.51 401.4,151.56 401.9,151.59 402.4,151.60 402.9,151.59 403.4,151.57 403.9,151.52 404.4,151.46 404.9,151.38 405.4,151.29 405.9,151.19 406.4,151.07 406.9,150.95 407.4,150.82 407.9,150.68 408.4,150.54 408.9,150.41 409.4,150.28 409.9,150.15 410.4,150.03 410.9,149.93 410.9,157.65 410.4,157.87 409.9,158.10 409.4,158.35 408.9,158.62 408.4,158.89 407.9,159.16 407.4,159.43 406.9,159.69 406.4,159.94 405.9,160.17 405.4,160.38 404.9,160.57 404.4,160.72 403.9,160.84 403.4,160.93 402.9,160.98 402.4,161.00 401.9,160.98 401.4,160.92 400.9,160.82 400.4,160.70 399.9,160.54 399.4,160.35 398.9,160.13 398.4,159.90 397.9,159.65 397.4,159.38 396.9,159.11 396.4,158.84 395.9,158.57 395.4,158.31 394.9,158.06 394.4,157.83 393.9,157.62 393.4,157.43 392.9,157.28 392.4,157.16 391.9,157.07 391.4,157.02 390.9,157.00 390.4,157.02 389.9,157.08 389.4,157.18 388.9,157.30 388.4,157.46 387.9,157.65 387.4,157.87 386.9,158.10 386.4,158.35 385.9,158.62 385.4,158.89 384.9,159.16 384.4,159.43 383.9,159.69 383.4,159.94 382.9,160.17 382.4,160.38 381.9,160.57 381.4,160.72 380.9,160.84 380.4,160.93 379.9,160.98 379.4,161.00 378.9,160.98 378.4,160.92 377.9,160.82 377.4,160.70 376.9,160.54 376.4,160.35 375.9,160.13 375.4,159.90 374.9,159.65 374.4,159.38 373.9,159.11 373.4,158.84 372.9,158.57 372.4,158.31 371.9,158.06 371.4,157.83 370.9,157.62 370.4,157.43 369.9,157.28 369.4,157.16 368.9,157.07 368.4,157.02 367.9,157.00 367.4,157.02 366.9,157.08 366.4,157.18 365.9,157.30 365.4,157.46 364.9,157.65 364.4,157.87 363.9,158.10 363.4,158.35 362.9,158.62 362.4,158.89 361.9,159.16 361.4,159.43 360.9,159.69 360.4,159.94 359.9,160.17 359.4,160.38 358.9,160.57 358.4,160.72 357.9,160.84 357.4,160.93 356.9,160.98 356.4,161.00 355.9,160.98 355.4,160.92 354.9,160.82 354.4,160.70 353.9,160.54 353.4,160.35 352.9,160.13 352.4,159.90 351.9,159.65 351.4,159.38 350.9,159.11 350.4,158.84 349.9,158.57 349.4,158.31 348.9,158.06 348.4,157.83 347.9,157.62 347.4,157.43 346.9,157.28 346.4,157.16 345.9,157.07 345.4,157.02 344.9,157.00 344.4,157.02 343.9,157.08 343.4,157.18 342.9,157.30 342.4,157.46 341.9,157.65 341.4,157.87 340.9,158.10 340.4,158.35 339.9,158.62 339.4,158.89 338.9,159.16 338.4,159.43 337.9,159.69 337.4,159.94 336.9,160.17 336.4,160.38 335.9,160.57 335.4,160.72 334.9,160.84 334.4,160.93 333.9,160.98 333.4,161.00 332.9,160.98 332.4,160.92 331.9,160.82 331.4,160.70 330.9,160.54 330.4,160.35 329.9,160.13 329.4,159.90 328.9,159.65 328.4,159.38 327.9,159.11 327.4,158.84 326.9,158.57 326.4,158.31 325.9,158.06 325.4,157.83 324.9,157.62 324.4,157.43 323.9,157.28 323.4,157.16 322.9,157.07 322.4,157.02 321.9,157.00 321.4,157.02 320.9,157.08 320.4,157.18 319.9,157.30 319.4,157.46 318.9,157.65 318.4,157.87 317.9,158.10 317.4,158.35 316.9,158.62 316.4,158.89 315.9,159.16 315.4,159.43 314.9,159.69 314.4,159.94 313.9,160.17 313.4,160.38 312.9,160.57 312.4,160.72 311.9,160.84 311.4,160.93 310.9,160.98 310.4,161.00 309.9,160.98 309.4,160.92 308.9,160.82 308.4,160.70" fill="#a8703e"/>
</g>
<path d="M325.10,272.52 A57.5,57.5 0 1 1 406.70,272.52 L365.9,313.6 Z" fill="#f1b72e"/>
<path d="M436.38,219.47 A46.6,46.6 0 1 1 500.82,219.47 L468.6,250.3 Z" fill="#78c3b7"/>
<path d="M536.45,171.99 A34.5,34.5 0 1 1 582.95,171.99 L559.7,193.2 Z" fill="#86a8dc"/>
<g id="build">
<polygon points="447.6,81.5 464.5,86.5 466.8,135 449.6,123" fill="#e6f2f9"/>
<polygon points="464.5,86.5 482.5,81 482,129.5 466.8,135" fill="#d0d6de"/>
<polygon points="448,81.5 466,78 482.5,81 464.5,86.5" fill="#f1f6fa"/>
<polygon points="455,82 465.5,79.6 475,82.4 465.5,85.4" fill="#8f1d14"/>
<polygon points="449.6,86.0 452.8,87.0 452.8,91.4 449.6,90.4" fill="#a3daf0"/>
<polygon points="454.6,87.8 457.8,88.8 457.8,93.2 454.6,92.2" fill="#a3daf0"/>
<polygon points="459.6,89.6 462.8,90.6 462.8,95.0 459.6,94.0" fill="#a3daf0"/>
<polygon points="449.9,93.0 453.1,94.0 453.1,98.4 449.9,97.4" fill="#a3daf0"/>
<polygon points="454.9,94.8 458.1,95.8 458.1,100.2 454.9,99.2" fill="#a3daf0"/>
<polygon points="459.9,96.6 463.1,97.6 463.1,102.0 459.9,101.0" fill="#a3daf0"/>
<polygon points="450.2,100.0 453.4,101.0 453.4,105.4 450.2,104.4" fill="#a3daf0"/>
<polygon points="455.2,101.8 458.4,102.8 458.4,107.2 455.2,106.2" fill="#a3daf0"/>
<polygon points="460.2,103.6 463.4,104.6 463.4,109.0 460.2,108.0" fill="#a3daf0"/>
<polygon points="450.5,107.0 453.7,108.0 453.7,112.4 450.5,111.4" fill="#a3daf0"/>
<polygon points="455.5,108.8 458.7,109.8 458.7,114.2 455.5,113.2" fill="#a3daf0"/>
<polygon points="460.5,110.6 463.7,111.6 463.7,116.0 460.5,115.0" fill="#a3daf0"/>
<polygon points="450.8,114.0 454.0,115.0 454.0,119.4 450.8,118.4" fill="#a3daf0"/>
<polygon points="455.8,115.8 459.0,116.8 459.0,121.2 455.8,120.2" fill="#a3daf0"/>
<polygon points="460.8,117.6 464.0,118.6 464.0,123.0 460.8,122.0" fill="#a3daf0"/>
<polygon points="451.1,121.0 454.3,122.0 454.3,126.4 451.1,125.4" fill="#a3daf0"/>
<polygon points="456.1,122.8 459.3,123.8 459.3,128.2 456.1,127.2" fill="#a3daf0"/>
<polygon points="461.1,124.6 464.3,125.6 464.3,130.0 461.1,129.0" fill="#a3daf0"/>
<polygon points="468.4,90.5 471.3,89.5 471.3,94.1 468.4,95.1" fill="#98cde2"/>
<polygon points="473.0,88.8 475.9,87.8 475.9,92.4 473.0,93.4" fill="#98cde2"/>
<polygon points="477.6,87.1 480.5,86.1 480.5,90.7 477.6,91.7" fill="#98cde2"/>
<polygon points="468.3,97.7 471.2,96.7 471.2,101.3 468.3,102.3" fill="#98cde2"/>
<polygon points="472.9,96.0 475.8,95.0 475.8,99.6 472.9,100.6" fill="#98cde2"/>
<polygon points="477.5,94.3 480.4,93.3 480.4,97.9 477.5,98.9" fill="#98cde2"/>
<polygon points="468.2,104.9 471.1,103.9 471.1,108.5 468.2,109.5" fill="#98cde2"/>
<polygon points="472.8,103.2 475.7,102.2 475.7,106.8 472.8,107.8" fill="#98cde2"/>
<polygon points="477.4,101.5 480.3,100.5 480.3,105.1 477.4,106.1" fill="#98cde2"/>
<polygon points="468.1,112.1 471.0,111.1 471.0,115.7 468.1,116.7" fill="#98cde2"/>
<polygon points="472.7,110.4 475.6,109.4 475.6,114.0 472.7,115.0" fill="#98cde2"/>
<polygon points="477.3,108.7 480.2,107.7 480.2,112.3 477.3,113.3" fill="#98cde2"/>
<polygon points="468.0,119.3 470.9,118.3 470.9,122.9 468.0,123.9" fill="#98cde2"/>
<polygon points="472.6,117.6 475.5,116.6 475.5,121.2 472.6,122.2" fill="#98cde2"/>
<polygon points="477.2,115.9 480.1,114.9 480.1,119.5 477.2,120.5" fill="#98cde2"/>
<polygon points="467.9,126.5 470.8,125.5 470.8,130.1 467.9,131.1" fill="#98cde2"/>
<polygon points="472.5,124.8 475.4,123.8 475.4,128.4 472.5,129.4" fill="#98cde2"/>
<polygon points="477.1,123.1 480.0,122.1 480.0,126.7 477.1,127.7" fill="#98cde2"/>
<ellipse cx="484.8" cy="139.3" rx="5" ry="1.6" fill="#8fd3ca"/>
<rect x="481.4" y="92" width="6.8" height="47.5" fill="#8fd3ca"/>
<rect x="483.2" y="96" width="3.4" height="43" fill="#c9ece6"/>
<polygon points="447.5,103 483.6,76.5 483.6,93" fill="#eaf5f5" fill-opacity="0.8"/>
<polygon points="483.6,76.5 495.5,88.5 484,92.5" fill="#d8f0ec" fill-opacity="0.9"/>
<polygon points="443.5,103.2 489,90.3 503,86.3 503.6,91.6 489,94.2 444.2,106.6" fill="#8fd3ca"/>
<rect x="482.6" y="76.5" width="2.6" height="16" fill="#8fd3ca"/>
<polyline points="447.5,103 483.6,76.2 495.5,88.7" fill="none" stroke="#7a2d1c" stroke-width="0.8"/>
<line x1="447" y1="104" x2="447" y2="115.5" stroke="#7a2d1c" stroke-width="0.8"/>
<ellipse cx="447.3" cy="117.8" rx="3" ry="2.1" fill="#f4b32a"/>
<path d="M447.8,119.6 q3.2,2.4 0.4,4.4 q-2.6,1.2 -4,-1" fill="none" stroke="#1c1c1c" stroke-width="1.6"/>
<polygon points="438.2,136.0 445.2,138.6 445.2,142.9 438.2,140.3" fill="#e8702f"/><polygon points="452.2,136.0 445.2,138.6 445.2,142.9 452.2,140.3" fill="#d25a22"/><polygon points="438.2,136.0 445.2,133.4 452.2,136.0 445.2,138.6" fill="#f29452"/>
<polygon points="438.2,131.7 445.2,134.29999999999998 445.2,138.6 438.2,136.0" fill="#e8702f"/><polygon points="452.2,131.7 445.2,134.29999999999998 445.2,138.6 452.2,136.0" fill="#d25a22"/><polygon points="438.2,131.7 445.2,129.1 452.2,131.7 445.2,134.29999999999998" fill="#f29452"/>
<polygon points="438.2,127.39999999999999 445.2,130.0 445.2,134.3 438.2,131.7" fill="#e8702f"/><polygon points="452.2,127.39999999999999 445.2,130.0 445.2,134.3 452.2,131.7" fill="#d25a22"/><polygon points="438.2,127.39999999999999 445.2,124.8 452.2,127.39999999999999 445.2,130.0" fill="#f29452"/>
<polyline points="438.2,131.7 445.2,134.29999999999998 452.2,131.7" fill="none" stroke="#b04a1c" stroke-width="0.7"/>
<polyline points="438.2,136.0 445.2,138.6 452.2,136.0" fill="none" stroke="#b04a1c" stroke-width="0.7"/>
<line x1="445.2" y1="130.0" x2="445.2" y2="142.9" stroke="#b04a1c" stroke-width="0.5"/>
<polygon points="446,138.79999999999998 453.1,141.39999999999998 453.1,145.7 446,143.1" fill="#e8702f"/><polygon points="460.2,138.79999999999998 453.1,141.39999999999998 453.1,145.7 460.2,143.1" fill="#d25a22"/><polygon points="446,138.79999999999998 453.1,136.2 460.2,138.79999999999998 453.1,141.39999999999998" fill="#f29452"/>
<polygon points="446,134.5 453.1,137.1 453.1,141.4 446,138.8" fill="#e8702f"/><polygon points="460.2,134.5 453.1,137.1 453.1,141.4 460.2,138.8" fill="#d25a22"/><polygon points="446,134.5 453.1,131.9 460.2,134.5 453.1,137.1" fill="#f29452"/>
<polygon points="446,130.2 453.1,132.79999999999998 453.1,137.1 446,134.5" fill="#e8702f"/><polygon points="460.2,130.2 453.1,132.79999999999998 453.1,137.1 460.2,134.5" fill="#d25a22"/><polygon points="446,130.2 453.1,127.6 460.2,130.2 453.1,132.79999999999998" fill="#f29452"/>
<polyline points="446,134.5 453.1,137.1 460.2,134.5" fill="none" stroke="#b04a1c" stroke-width="0.7"/>
<polyline points="446,138.79999999999998 453.1,141.39999999999998 460.2,138.79999999999998" fill="none" stroke="#b04a1c" stroke-width="0.7"/>
<line x1="453.1" y1="132.79999999999998" x2="453.1" y2="145.7" stroke="#b04a1c" stroke-width="0.5"/>
</g>
<g id="cart">
<polygon points="538.8,83.8 575,81.6 569.6,100.6 543.2,100.6" fill="#e2e3e6"/>
<polygon points="541,86 572.2,84.2 568.2,98.8 544.6,98.8" fill="#cfd1d5"/>
<circle cx="545.2" cy="87.4" r="1.05" fill="#f6f7f8"/>
<circle cx="549.8" cy="87.2" r="1.05" fill="#f6f7f8"/>
<circle cx="554.4" cy="87.1" r="1.05" fill="#f6f7f8"/>
<circle cx="559.0" cy="87.0" r="1.05" fill="#f6f7f8"/>
<circle cx="563.6" cy="86.8" r="1.05" fill="#f6f7f8"/>
<circle cx="568.2" cy="86.7" r="1.05" fill="#f6f7f8"/>
<circle cx="547.1" cy="90.8" r="1.05" fill="#f6f7f8"/>
<circle cx="551.7" cy="90.7" r="1.05" fill="#f6f7f8"/>
<circle cx="556.3" cy="90.5" r="1.05" fill="#f6f7f8"/>
<circle cx="560.9" cy="90.4" r="1.05" fill="#f6f7f8"/>
<circle cx="565.5" cy="90.2" r="1.05" fill="#f6f7f8"/>
<circle cx="570.1" cy="90.1" r="1.05" fill="#f6f7f8"/>
<circle cx="545.0" cy="94.2" r="1.05" fill="#f6f7f8"/>
<circle cx="549.6" cy="94.0" r="1.05" fill="#f6f7f8"/>
<circle cx="554.2" cy="93.9" r="1.05" fill="#f6f7f8"/>
<circle cx="558.8" cy="93.8" r="1.05" fill="#f6f7f8"/>
<circle cx="563.4" cy="93.6" r="1.05" fill="#f6f7f8"/>
<circle cx="568.0" cy="93.5" r="1.05" fill="#f6f7f8"/>
<circle cx="546.9" cy="97.6" r="1.05" fill="#f6f7f8"/>
<circle cx="551.5" cy="97.5" r="1.05" fill="#f6f7f8"/>
<circle cx="556.1" cy="97.3" r="1.05" fill="#f6f7f8"/>
<circle cx="560.7" cy="97.2" r="1.05" fill="#f6f7f8"/>
<circle cx="565.3" cy="97.0" r="1.05" fill="#f6f7f8"/>
<circle cx="569.9" cy="96.9" r="1.05" fill="#f6f7f8"/>
<polyline points="579.6,79 570.4,103.6 572.6,106.2" fill="none" stroke="#d6d7db" stroke-width="1.5"/>
<polygon points="543,104.4 571,104.4 573.2,107 543,106.6" fill="#dfe0e3"/>
<line x1="579" y1="79" x2="584.4" y2="76.6" stroke="#7d9fd6" stroke-width="2.8" stroke-linecap="round"/>
<circle cx="547.4" cy="110.1" r="2.8" fill="#3a3a3c"/>
<circle cx="547.4" cy="110.1" r="1.1" fill="#d8d8da"/>
<circle cx="567.2" cy="110.1" r="2.8" fill="#3a3a3c"/>
<circle cx="567.2" cy="110.1" r="1.1" fill="#d8d8da"/>
</g>
<text class="w" x="327.6" y="234" font-size="25.4" textLength="74.6" lengthAdjust="spacing" style="stroke-width:1.1px">3,11%</text>
<text class="w" x="449.4" y="190.9" font-size="21.4" textLength="42.6" lengthAdjust="spacing" style="stroke-width:0.9px">1,88</text>
<text class="w" x="541" y="155" font-size="19.4" textLength="37" lengthAdjust="spacingAndGlyphs" style="stroke-width:0.8px">0,67</text>
<text x="318.6" y="339.8" font-size="15.6" fill="#6b4936" stroke="#6b4936" stroke-width="0.3" textLength="130.5" lengthAdjust="spacingAndGlyphs">Nông, lâm, thủy sản</text>
<text x="458" y="270.8" font-size="16.5" fill="#2a8a9f" stroke="#2a8a9f" stroke-width="0.25" textLength="87.4" lengthAdjust="spacingAndGlyphs">Công nghiệp</text>
<text x="446.5" y="290" font-size="16.5" fill="#2a8a9f" stroke="#2a8a9f" stroke-width="0.25" textLength="80.4" lengthAdjust="spacingAndGlyphs">và xây dựng</text>
<text x="534.6" y="206.6" font-size="17" fill="#3467a8" stroke="#3467a8" stroke-width="0.25" textLength="50.6" lengthAdjust="spacingAndGlyphs">Thương</text>
<text x="549.6" y="225" font-size="17" fill="#3467a8" stroke="#3467a8" stroke-width="0.25" textLength="23" lengthAdjust="spacingAndGlyphs">mại</text>
<text x="535.6" y="243.3" font-size="17" fill="#3467a8" stroke="#3467a8" stroke-width="0.25" textLength="49.5" lengthAdjust="spacingAndGlyphs">dịch vụ</text>
<text class="t" x="447.6" y="377" font-size="21.4" textLength="136.6" lengthAdjust="spacingAndGlyphs">TĂNG TRƯỞNG</text>
<text class="t" x="471.6" y="402.6" font-size="21.4" textLength="112.6" lengthAdjust="spacingAndGlyphs">CÁC NGÀNH</text>
</svg>
</body>
</html>
